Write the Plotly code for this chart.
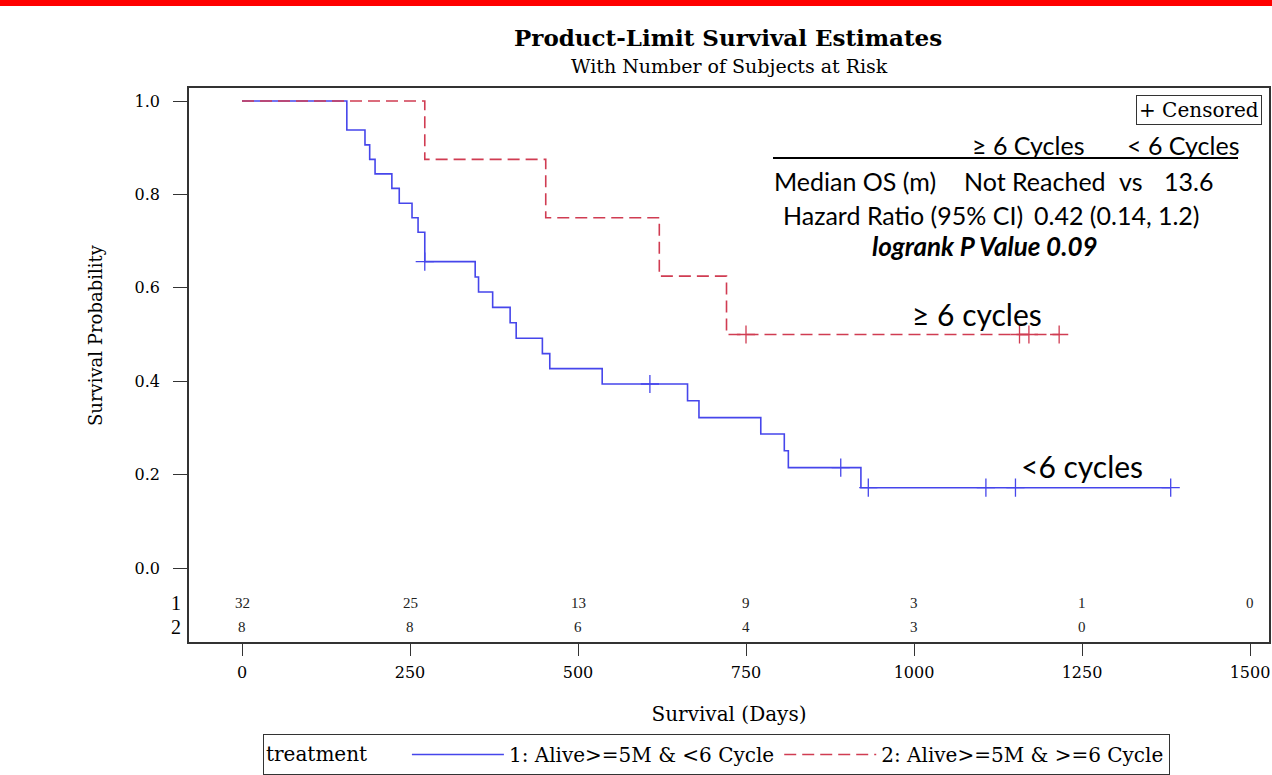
import plotly.graph_objects as go

# ---------------- data ----------------
blue_name = "1: Alive>=5M & <6 Cycle"
red_name = "2: Alive>=5M & >=6 Cycle"

blue_t = [0, 156, 183, 190, 198, 223, 234, 253, 262, 272, 347, 352, 373, 399, 408,
          447, 458, 536, 663, 680, 772, 807, 813, 921, 1382]
blue_s = [1.0, 0.938, 0.906, 0.875, 0.844, 0.813, 0.781, 0.750, 0.719, 0.656, 0.623,
          0.591, 0.558, 0.525, 0.492, 0.459, 0.427, 0.394, 0.358, 0.322, 0.287, 0.251,
          0.215, 0.172, 0.172]
blue_cens_t = [272, 607, 891, 932, 1107, 1151, 1382]
blue_cens_s = [0.656, 0.394, 0.215, 0.172, 0.172, 0.172, 0.172]

red_t = [0, 272, 452, 621, 721, 1216]
red_s = [1.0, 0.875, 0.75, 0.625, 0.5, 0.5]
red_cens_t = [750, 1157, 1171, 1216]
red_cens_s = [0.5, 0.5, 0.5, 0.5]

risk_times = [0, 250, 500, 750, 1000, 1250, 1500]
risk_row1 = [32, 25, 13, 9, 3, 1, 0]
risk_row2 = [8, 8, 6, 4, 3, 0]

x_ticks = [0, 250, 500, 750, 1000, 1250, 1500]
y_ticks = [0.0, 0.2, 0.4, 0.6, 0.8, 1.0]

# ---------------- layout helpers ----------------
W, H = 1272, 775
L, R, T, B = 189, 1269, 88, 642
def px_x(p):
    return (p - L) / (R - L)
def px_y(p):
    return (B - p) / (B - T)

BLUE = "rgb(70,70,235)"
RED = "rgb(208,60,82)"
SERIF = "DejaVu Serif"
TIMES = "Liberation Serif"
SANS = "Lato"

fig = go.Figure()
fig.add_trace(go.Scatter(x=blue_t, y=blue_s, mode="lines", line_shape="hv",
                         line=dict(color=BLUE, width=1.6), name=blue_name))
fig.add_trace(go.Scatter(x=red_t, y=red_s, mode="lines", line_shape="hv",
                         line=dict(color=RED, width=1.6, dash="12px,6px"), name=red_name))
fig.add_trace(go.Scatter(x=blue_cens_t, y=blue_cens_s, mode="markers", showlegend=False,
                         marker=dict(symbol="cross-thin", size=13,
                                     line=dict(color=BLUE, width=1.3))))
fig.add_trace(go.Scatter(x=red_cens_t, y=red_cens_s, mode="markers", showlegend=False,
                         marker=dict(symbol="cross-thin", size=13,
                                     line=dict(color=RED, width=1.3))))

ann = []
def paper_text(text, x, y, family, size, anchor="center", **kw):
    d = dict(x=px_x(x), xref="paper", xanchor=anchor, y=px_y(y), yref="paper",
             yanchor="middle", text=text, showarrow=False,
             font=dict(family=family, size=size, color="black"))
    d.update(kw)
    ann.append(d)

# at-risk table
for t, n in zip(risk_times, risk_row1):
    ann.append(dict(x=t, xref="x", xanchor="center", y=px_y(603), yref="paper",
                    yanchor="middle", text=str(n), showarrow=False,
                    font=dict(family=TIMES, size=15, color="#222")))
for t, n in zip(risk_times, risk_row2):
    ann.append(dict(x=t, xref="x", xanchor="center", y=px_y(627), yref="paper",
                    yanchor="middle", text=str(n), showarrow=False,
                    font=dict(family=TIMES, size=15, color="#222")))
paper_text("1", 176, 603, TIMES, 20)
paper_text("2", 176, 627, TIMES, 20)

# titles
paper_text("<b>Product-Limit Survival Estimates</b>", 728, 37, SERIF, 23)
paper_text("With Number of Subjects at Risk", 729, 66, SERIF, 19)

# y axis title (centred on the survival part of the axis)
paper_text("Survival Probability", 95, 335, SERIF, 18, textangle=-90)

# censored box
paper_text("+ Censored", 1262, 110, SERIF, 20, anchor="right",
           bordercolor="#333", borderwidth=1, borderpad=2, bgcolor="white")

# stats block
paper_text("\u2265 6 Cycles", 1028, 145, SANS, 25)
paper_text("< 6 Cycles", 1183, 145, SANS, 25)
paper_text("Median OS (m)", 772, 181, SANS, 25, anchor="left")
paper_text("Not Reached", 962, 181, SANS, 25, anchor="left")
paper_text("vs", 1117, 181, SANS, 25, anchor="left")
paper_text("13.6", 1162, 181, SANS, 25, anchor="left")
paper_text("Hazard Ratio (95% CI)", 781, 215, SANS, 25, anchor="left")
paper_text("0.42 (0.14, 1.2)", 1032, 215, SANS, 25, anchor="left")
paper_text("<b><i>logrank P Value 0.09</i></b>", 985, 246, SANS, 26)
paper_text("\u2265 6 cycles", 977, 314, SANS, 30)
paper_text("<6 cycles", 1082, 466, SANS, 30)

shapes = [
    dict(type="rect", xref="paper", yref="paper", x0=-1, x1=2, y0=px_y(6), y1=px_y(-2),
         fillcolor="red", line=dict(width=0)),
    dict(type="line", xref="paper", yref="paper", x0=px_x(773), x1=px_x(1238),
         y0=px_y(158), y1=px_y(158), line=dict(color="black", width=2)),
]

fig.update_layout(
    width=W, height=H,
    margin=dict(l=L, r=W - R, t=T, b=H - B),
    paper_bgcolor="white", plot_bgcolor="white",
    annotations=ann, shapes=shapes,
    showlegend=True,
    legend=dict(orientation="h", xref="container", yref="container",
                x=263 / W, xanchor="left", y=0.0, yanchor="bottom",
                bordercolor="#333", borderwidth=1, bgcolor="white",
                font=dict(family=SERIF, size=20, color="black"),
                title=dict(text="treatment     ", side="left",
                           font=dict(family=SERIF, size=20, color="black")),
                itemwidth=92),
    xaxis=dict(range=[(L - 242) / 0.672, (R - 242) / 0.672], tickvals=x_ticks,
               ticks="outside", ticklen=12, tickcolor="#333", showgrid=False, zeroline=False,
               showline=True, linecolor="#333", linewidth=1.5, mirror=True,
               automargin=False, ticklabelstandoff=3,
               tickfont=dict(family=SERIF, size=16, color="black"),
               title=dict(text="Survival (Days)", standoff=26,
                          font=dict(family=SERIF, size=20, color="black"))),
    yaxis=dict(range=[(568 - B) / 467, (568 - T) / 467], tickvals=y_ticks, tickformat=".1f",
               ticks="outside", ticklen=14, tickcolor="#333", showgrid=False, zeroline=False,
               showline=True, linecolor="#333", linewidth=1.5, mirror=True,
               automargin=False, ticklabelstandoff=10,
               tickfont=dict(family=SERIF, size=16, color="black")),
)

fig.write_html("out.html", config={"displayModeBar": False},
               post_script="document.body.style.margin='0px';")
